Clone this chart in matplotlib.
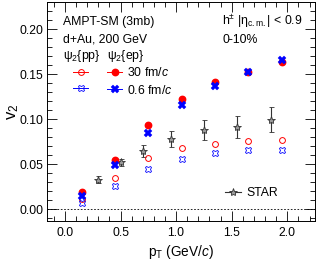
import numpy as np
import matplotlib
matplotlib.use('Agg')
from matplotlib import pyplot as plt
from matplotlib.lines import Line2D
from matplotlib.ticker import MultipleLocator, FormatStrFormatter

plt.rcParams['font.family'] = ['Liberation Sans', 'DejaVu Sans']
plt.rcParams['mathtext.fontset'] = 'custom'
plt.rcParams['mathtext.rm'] = 'Liberation Sans'
plt.rcParams['mathtext.it'] = 'Liberation Sans:italic'
plt.rcParams['mathtext.bf'] = 'Liberation Sans:bold'

# AMPT-SM points
pt_ampt = [0.15, 0.45, 0.75, 1.05, 1.35, 1.65, 1.95]
v2_ep_30 = [0.019, 0.055, 0.094, 0.122, 0.141, 0.1525, 0.164]
v2_ep_06 = [0.015, 0.049, 0.085, 0.116, 0.137, 0.152, 0.166]
v2_pp_30 = [0.011, 0.035, 0.057, 0.0685, 0.073, 0.0758, 0.0767]
v2_pp_06 = [0.0075, 0.026, 0.045, 0.056, 0.063, 0.0656, 0.0656]

# STAR data
pt_star = [0.30, 0.50, 0.70, 0.95, 1.25, 1.55, 1.85]
v2_star = [0.033, 0.052, 0.065, 0.078, 0.088, 0.0915, 0.0997]
err_star = [0.004, 0.004, 0.0065, 0.0085, 0.011, 0.012, 0.0135]

fs = 8.8
fig = plt.figure(figsize=(3.17, 2.61), dpi=100)
ax = fig.add_axes([0.148, 0.153, 0.846, 0.839])

ax.axhline(0, color='k', lw=0.6, ls=(0, (2, 2)))

ax.errorbar(pt_star, v2_star, yerr=err_star, fmt='*', ms=6, mfc='#9a9a9a',
            mec='#333333', mew=0.6, ecolor='#333333', elinewidth=0.8,
            capsize=1.8, capthick=0.8, zorder=3)
ax.plot(pt_ampt, v2_pp_30, 'o', ms=4.2, mfc='none', mec='red', mew=0.7, zorder=4)
ax.plot(pt_ampt, v2_pp_06, 'X', ms=5, mfc='none', mec='blue', mew=0.6, zorder=4)
ax.plot(pt_ampt, v2_ep_30, 'o', ms=4.6, mfc='red', mec='red', zorder=5)
ax.plot(pt_ampt, v2_ep_06, 'X', ms=5.5, mfc='blue', mec='blue', mew=0.3, zorder=6)

ax.set_xlim(-0.162, 2.25)
ax.set_ylim(-0.013, 0.23)
ax.xaxis.set_major_locator(MultipleLocator(0.5))
ax.xaxis.set_minor_locator(MultipleLocator(0.1))
ax.yaxis.set_major_locator(MultipleLocator(0.05))
ax.yaxis.set_minor_locator(MultipleLocator(0.01))
ax.xaxis.set_major_formatter(FormatStrFormatter('%.1f'))
ax.yaxis.set_major_formatter(FormatStrFormatter('%.2f'))
ax.tick_params(which='both', direction='in', top=True, right=True,
               labelsize=fs, width=0.6)
ax.tick_params(axis='y', pad=2.5)
ax.tick_params(axis='x', pad=4)
ax.tick_params(which='major', length=7)
ax.tick_params(which='minor', length=3.5)
for s in ax.spines.values():
    s.set_linewidth(0.7)

ax.set_xlabel(r'p$_{\rm T}$ (GeV/$c$)', fontsize=9.8, labelpad=3)
ax.set_ylabel(r'v$_2$', fontsize=12)
ax.yaxis.set_label_coords(-0.095, 0.5)

ax.text(0.059, 0.909, 'AMPT-SM (3mb)', transform=ax.transAxes, fontsize=fs, va='center')
ax.text(0.059, 0.831, 'd+Au, 200 GeV', transform=ax.transAxes, fontsize=fs, va='center')
ax.text(0.059, 0.753, 'ψ$_2${pp}', transform=ax.transAxes, fontsize=fs, va='center')
ax.text(0.224, 0.753, 'ψ$_2${ep}', transform=ax.transAxes, fontsize=fs, va='center')
ax.text(0.653, 0.913, 'h$^{\\pm}$ |η$_{\\rm c.m.}$| < 0.9', transform=ax.transAxes,
        fontsize=fs, va='center')
ax.text(0.653, 0.826, '0-10%', transform=ax.transAxes, fontsize=fs, va='center')

h_pp30 = Line2D([], [], color='red', lw=0.7, marker='o', ms=4.2, mfc='none', mec='red', mew=0.7)
h_pp06 = Line2D([], [], color='blue', lw=0.7, marker='X', ms=5, mfc='none', mec='blue', mew=0.6)
h_ep30 = Line2D([], [], color='red', lw=0.7, marker='o', ms=4.6, mfc='red', mec='red')
h_ep06 = Line2D([], [], color='blue', lw=0.7, marker='X', ms=5.5, mfc='blue', mec='blue', mew=0.3)
leg1 = ax.legend([h_pp30, h_pp06, h_ep30, h_ep06], ['', '', '30 fm/$c$', '0.6 fm/$c$'],
                 ncol=2, loc='upper left', bbox_to_anchor=(0.097, 0.706), frameon=False,
                 fontsize=fs, handlelength=1.25, handletextpad=0.4, columnspacing=1.15,
                 labelspacing=0.35, borderpad=0, borderaxespad=0)
ax.add_artist(leg1)

h_star = Line2D([], [], color='#333333', lw=0.8, marker='*', ms=6, mfc='#9a9a9a', mec='#333333', mew=0.6)
ax.legend([h_star], ['STAR'], loc='center left', bbox_to_anchor=(0.664, 0.128),
          frameon=False, fontsize=fs, handlelength=1.35, handletextpad=0.4,
          borderpad=0, borderaxespad=0)

fig.savefig('out.png', dpi=100)
